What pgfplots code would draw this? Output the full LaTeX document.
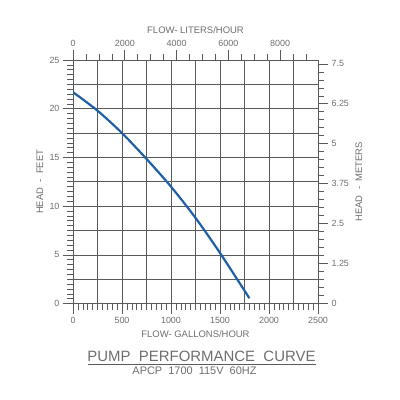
\documentclass[border=0pt]{standalone}
\usepackage{fontspec}
\setmainfont{Liberation Sans}
\usepackage{pgfplots}
\pgfplotsset{compat=1.18}
\definecolor{ink}{HTML}{6E6E6E}
\definecolor{gridc}{HTML}{5A5A5A}
\definecolor{curve}{HTML}{1F5FA6}

\pgfplotsset{
  pumpbase/.style={
    scale only axis, width=245bp, height=243.6bp,
    at={(73bp,96.4bp)}, anchor=south west,
    tick align=outside,
    major tick length=10bp, minor tick length=6bp,
    every tick/.style={gridc, line width=0.6pt},
    axis line style={gridc, line width=0.6pt},
    tick label style={font=\fontsize{9}{10}\selectfont, ink},
    label style={font=\fontsize{9.5}{11}\selectfont, ink},
    /pgf/number format/assume math mode=true,
    /pgf/number format/1000 sep={},
  }
}

\begin{document}
\begin{tikzpicture}
\useasboundingbox (0,0) rectangle (400bp,400bp);

% gallons / feet: the grid and the curve
\begin{axis}[pumpbase,
  xmin=0, xmax=2500, ymin=0, ymax=25,
  xtick={0,500,...,2500}, ytick={0,5,...,25},
  minor xtick={0,50,...,2500}, minor ytick={0,0.5,...,25},
  extra x ticks={250,750,1250,1750,2250},
  extra y ticks={2.5,7.5,12.5,17.5,22.5},
  extra x tick labels={}, extra y tick labels={},
  extra tick style={major tick length=6bp, grid=major},
  grid=major, grid style={gridc, line width=0.6pt},
  xtick pos=bottom, ytick pos=left,
  xlabel={FLOW- GALLONS/HOUR}, ylabel={HEAD \ - \ FEET},
  xlabel style={at={(axis description cs:0.5,-0.126)}, anchor=center},
  ylabel style={at={(axis description cs:-0.135,0.5)}, anchor=center},
]
\addplot[curve, line width=2.2pt, smooth] coordinates {
  (0,21.7) (250,19.8) (500,17.5) (750,14.85) (1000,12.0)
  (1250,8.8) (1500,5.2) (1800,0.55)
};
\end{axis}

% liters per hour on top
\begin{axis}[pumpbase,
  xmin=0, xmax=9462.5, ymin=0, ymax=1,
  axis x line*=top, axis y line=none,
  xtick={0,2000,4000,6000,8000},
  minor xtick={500,1000,...,9000},
  xlabel={FLOW- LITERS/HOUR},
  xlabel style={at={(axis description cs:0.5,1.123)}, anchor=center},
]
\end{axis}

% meters on the right
\begin{axis}[pumpbase,
  xmin=0, xmax=1, ymin=0, ymax=7.62,
  axis y line*=right, axis x line=none,
  ytick={0,1.25,2.5,3.75,5,6.25,7.5},
  yticklabels={0,1.25,2.5,3.75,5,6.25,7.5},
  minor ytick={0,0.25,...,7.5},
  ylabel={HEAD \ - \ METERS},
  ylabel style={at={(axis description cs:1.167,0.5)}, anchor=center},
]
\end{axis}

\node[ink, font=\fontsize{15}{18}\selectfont] at (201.5bp,44bp) {PUMP \ PERFORMANCE \ CURVE};
\draw[gridc, line width=0.6pt] (88bp,36bp) -- (316bp,36bp);
\node[ink, font=\fontsize{11}{13}\selectfont] at (194.5bp,29.3bp) {APCP \ 1700 \ 115V \ 60HZ};
\end{tikzpicture}
\end{document}
